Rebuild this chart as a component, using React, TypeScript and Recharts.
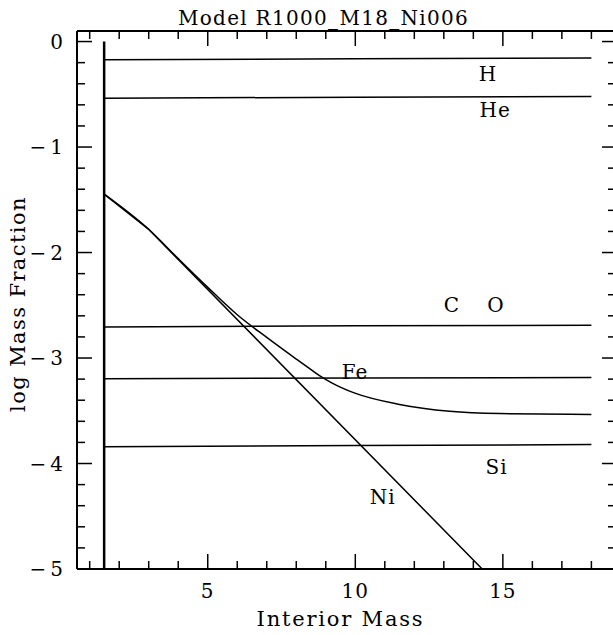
import React from "react";
import { ComposedChart, Line, XAxis, YAxis, ReferenceDot } from "recharts";

// axis ticks (every 1 on x, every 0.2 on y; majors get labels)
const xTicks = [1, 2, 3, 4, 5, 6, 7, 8, 9, 10, 11, 12, 13, 14, 15, 16, 17, 18];
const xMajor = [5, 10, 15];
const yTicks = [
  0, -0.2, -0.4, -0.6, -0.8, -1, -1.2, -1.4, -1.6, -1.8, -2, -2.2, -2.4, -2.6, -2.8,
  -3, -3.2, -3.4, -3.6, -3.8, -4, -4.2, -4.4, -4.6, -4.8, -5,
];
const yMajor = [0, -1, -2, -3, -4, -5];

// abundance profiles: m = interior mass, v = log mass fraction
const boundary = [{ m: 1.49, v: 0 }, { m: 1.49, v: -5 }];
const hydrogen = [{ m: 1.49, v: -0.173 }, { m: 10, v: -0.163 }, { m: 18, v: -0.157 }];
const helium = [{ m: 1.49, v: -0.537 }, { m: 10, v: -0.528 }, { m: 18, v: -0.521 }];
const carbonOxygen = [{ m: 1.49, v: -2.705 }, { m: 10, v: -2.695 }, { m: 18, v: -2.69 }];
const flatFe = [{ m: 1.49, v: -3.197 }, { m: 10, v: -3.19 }, { m: 18, v: -3.185 }];
const silicon = [{ m: 1.49, v: -3.84 }, { m: 10, v: -3.83 }, { m: 18, v: -3.82 }];
const nickel = [{ m: 1.49, v: -1.446 }, { m: 2.98, v: -1.775 }, { m: 14.3, v: -5 }];
const iron = [
  { m: 1.49, v: -1.446 }, { m: 2.98, v: -1.775 }, { m: 4, v: -2.058 }, { m: 5, v: -2.33 },
  { m: 6, v: -2.59 }, { m: 7, v: -2.805 }, { m: 8, v: -3.01 }, { m: 8.5, v: -3.11 },
  { m: 8.84, v: -3.176 }, { m: 9.2, v: -3.235 }, { m: 9.94, v: -3.328 }, { m: 11.5, v: -3.44 },
  { m: 13.2, v: -3.505 }, { m: 14.9, v: -3.527 }, { m: 18, v: -3.535 },
];

const labels = [
  { name: "H", m: 14.5, v: -0.373 },
  { name: "He", m: 14.74, v: -0.714 },
  { name: "C", m: 13.27, v: -2.562 },
  { name: "O", m: 14.77, v: -2.562 },
  { name: "Fe", m: 9.99, v: -3.197 },
  { name: "Si", m: 14.79, v: -4.097 },
  { name: "Ni", m: 10.93, v: -4.382 },
];

const FONT = "DejaVu Serif";
const FS = 20;

const BottomTick = (p: any) => {
  const v = p.payload.value;
  const major = xMajor.includes(v);
  return (
    <g>
      <line x1={p.x} x2={p.x} y1={p.y} y2={p.y - (major ? 15 : 8)} stroke="#000" strokeWidth={1.5} />
      {major && (
        <text x={p.x} y={p.y + 29} textAnchor="middle" fontFamily={FONT} fontSize={FS} letterSpacing={1} fill="#000">
          {v}
        </text>
      )}
    </g>
  );
};

const TopTick = (p: any) => {
  const major = xMajor.includes(p.payload.value);
  return <line x1={p.x} x2={p.x} y1={p.y} y2={p.y + (major ? 15 : 8)} stroke="#000" strokeWidth={1.5} />;
};

const LeftTick = (p: any) => {
  const v = p.payload.value;
  const major = yMajor.includes(v);
  return (
    <g>
      <line x1={p.x} x2={p.x + (major ? 15 : 8)} y1={p.y} y2={p.y} stroke="#000" strokeWidth={1.5} />
      {major && (
        <text x={63} y={p.y + 7} textAnchor="end" fontFamily={FONT} fontSize={FS} fill="#000">
          {v === 0 ? "0" : "\u2212\u2009" + Math.abs(v)}
        </text>
      )}
    </g>
  );
};

const RightTick = (p: any) => {
  const major = yMajor.includes(p.payload.value);
  return <line x1={p.x} x2={p.x - (major ? 13 : 7)} y1={p.y} y2={p.y} stroke="#000" strokeWidth={1.5} />;
};

const series = [hydrogen, helium, carbonOxygen, flatFe, silicon, nickel];

export default function App() {
  return (
    <div style={{ position: "absolute", left: 0, top: 0, width: 613, height: 635, overflow: "hidden", background: "#fff" }}>
      <ComposedChart width={625} height={635} margin={{ top: 30, right: 9, bottom: 65, left: 76 }}>
        <XAxis
          type="number"
          dataKey="m"
          domain={[0.57, 18.8]}
          ticks={xTicks}
          interval={0}
          allowDataOverflow
          height={1}
          tickSize={0}
          tickMargin={0}
          tickLine={false}
          tick={BottomTick}
          axisLine={{ stroke: "#000", strokeWidth: 2 }}
          label={{
            content: () => (
              <text x={340.5} y={626} textAnchor="middle" fontFamily={FONT} fontSize={21} letterSpacing={1.8} fill="#000">
                Interior Mass
              </text>
            ),
          }}
        />
        <XAxis
          xAxisId="top"
          orientation="top"
          type="number"
          dataKey="m"
          domain={[0.57, 18.8]}
          ticks={xTicks}
          interval={0}
          allowDataOverflow
          height={1}
          tickSize={0}
          tickMargin={0}
          tickLine={false}
          tick={TopTick}
          axisLine={{ stroke: "#000", strokeWidth: 2 }}
          label={{
            content: () => (
              <text x={323.5} y={25} textAnchor="middle" fontFamily={FONT} fontSize={FS} letterSpacing={1.3} fill="#000">
                Model R1000_M18_Ni006
              </text>
            ),
          }}
        />
        <YAxis
          type="number"
          dataKey="v"
          domain={[-5, 0.1]}
          ticks={yTicks}
          interval={0}
          allowDataOverflow
          width={1}
          tickSize={0}
          tickMargin={0}
          tickLine={false}
          tick={LeftTick}
          axisLine={{ stroke: "#000", strokeWidth: 2 }}
          label={{
            content: () => (
              <text
                x={25}
                y={304}
                transform="rotate(-90 25 304)"
                textAnchor="middle"
                fontFamily={FONT}
                fontSize={21}
                letterSpacing={1.4}
                fill="#000"
              >
                log Mass Fraction
              </text>
            ),
          }}
        />
        <YAxis
          yAxisId="right"
          orientation="right"
          type="number"
          domain={[-5, 0.1]}
          ticks={yTicks}
          interval={0}
          allowDataOverflow
          width={1}
          tickSize={0}
          tickMargin={0}
          tickLine={false}
          tick={RightTick}
          axisLine={{ stroke: "#000", strokeWidth: 2 }}
        />
        <Line
          data={boundary}
          dataKey="v"
          type="linear"
          stroke="#000"
          strokeWidth={2.5}
          dot={false}
          isAnimationActive={false}
        />
        {series.map((d, i) => (
          <Line
            key={i}
            data={d}
            dataKey="v"
            type="linear"
            stroke="#000"
            strokeWidth={1.5}
            dot={false}
            isAnimationActive={false}
          />
        ))}
        <Line
          data={iron}
          dataKey="v"
          type="monotone"
          stroke="#000"
          strokeWidth={1.5}
          dot={false}
          isAnimationActive={false}
        />
        {labels.map((l) => (
          <ReferenceDot
            key={l.name}
            x={l.m}
            y={l.v}
            r={0}
            fill="none"
            stroke="none"
            label={{
              content: (p: any) => (
                <text
                  x={p.viewBox.x + (p.viewBox.width || 0) / 2}
                  y={p.viewBox.y + (p.viewBox.height || 0) / 2}
                  textAnchor="middle"
                  fontFamily={FONT}
                  fontSize={FS}
                  letterSpacing={1}
                  fill="#000"
                >
                  {l.name}
                </text>
              ),
            }}
          />
        ))}
      </ComposedChart>
    </div>
  );
}
